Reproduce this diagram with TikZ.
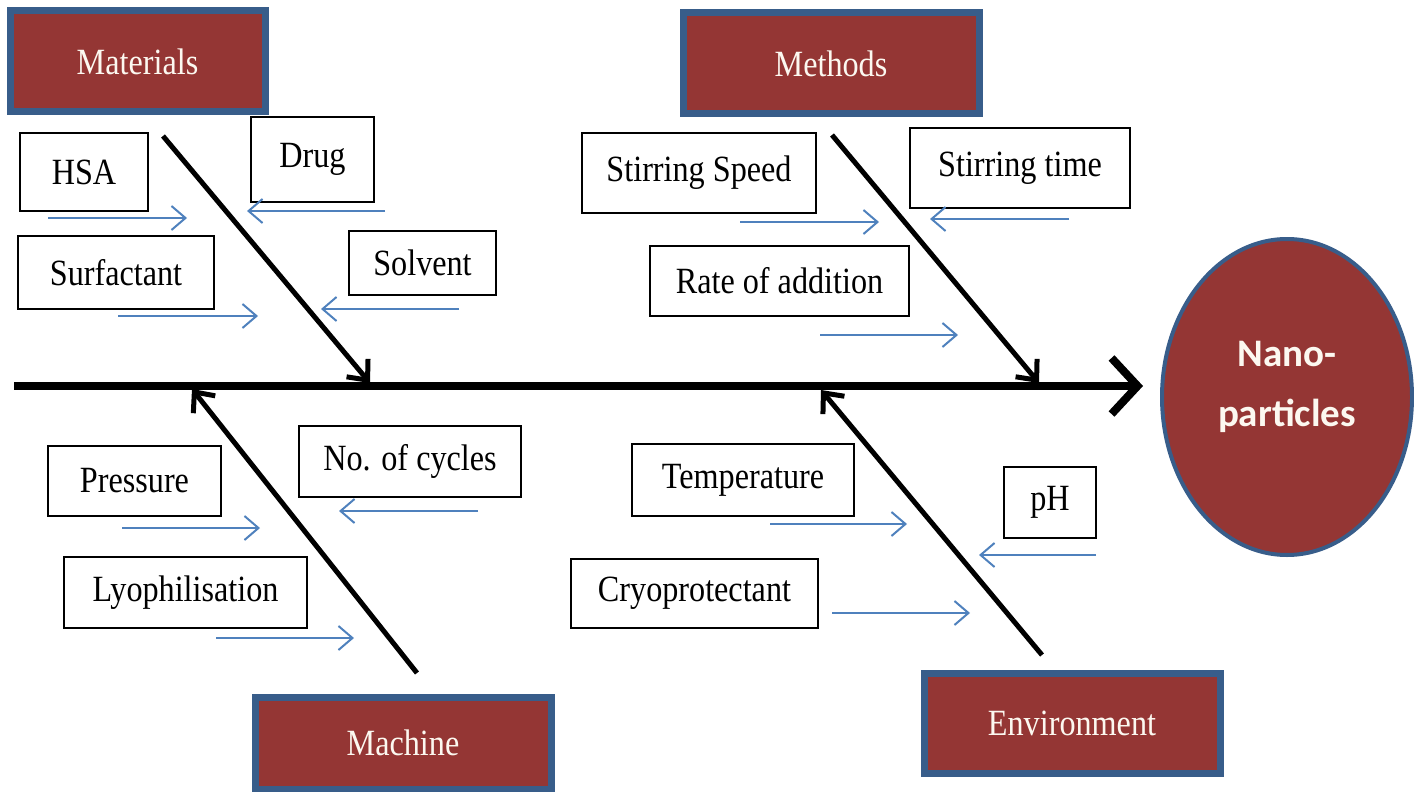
\documentclass[tikz,border=0pt]{standalone}
\usepackage{fontspec}
\setmainfont{Liberation Serif}[FakeStretch=0.87]
\newfontfamily\nanofont{Carlito}
\usepackage{tikz}
\usetikzlibrary{arrows.meta, shapes.geometric}
\definecolor{dark}{RGB}{148, 54, 52}
\definecolor{frame}{RGB}{56, 93, 138}
\definecolor{feedblue}{RGB}{79, 129, 189}
\definecolor{cream}{RGB}{252, 248, 240}

\begin{document}
\begin{tikzpicture}[x=0.5pt, y=-0.5pt,
  font=\fontsize{18.5}{22}\selectfont,
  boxsize/.style 2 args={minimum width={#1*0.5pt}, minimum height={#2*0.5pt}},
  cause/.style={draw=black, line width=1pt, fill=white, inner sep=0pt},
  group/.style={draw=frame, line width=3.5pt, fill=dark, text=cream, inner sep=0pt},
  feed/.style={draw=feedblue, line width=1pt, -{Straight Barb[length=7pt, width=12pt]}},
  bone/.style={line width=2.5pt, -{Straight Barb[length=8pt, width=14pt]}}]

  \useasboundingbox (0, 0) rectangle (1414, 792);

  \node[group, boxsize={255}{101}] (materials) at (137.5, 61.5) {Materials};
  \node[group, boxsize={296}{101}] (methods) at (831, 63.5) {Methods};
  \node[group, boxsize={296}{92}] (machine) at (403, 743) {Machine};
  \node[group, boxsize={296}{100}] (environment) at (1072, 723) {Environment};

  \node[cause, boxsize={128}{78}] (hsa) at (84, 172) {HSA};
  \node[cause, boxsize={123}{85}] (drug) at (312.5, 159.5) {Drug};
  \node[cause, boxsize={196}{73}] (surfactant) at (116, 272.5) {Surfactant};
  \node[cause, boxsize={147}{64}] (solvent) at (422.5, 263) {Solvent};
  \node[cause, boxsize={234}{80}] (speed) at (699, 173) {Stirring Speed};
  \node[cause, boxsize={220}{80}] (time) at (1020, 168) {Stirring time};
  \node[cause, boxsize={259}{70}] (rate) at (779.5, 281) {Rate of addition};
  \node[cause, boxsize={173}{70}] (pressure) at (134.5, 481) {Pressure};
  \node[cause, boxsize={222}{71}] (cycles) at (410, 461.5) {No. of cycles};
  \node[cause, boxsize={243}{71}] (lyo) at (185.5, 592.5) {Lyophilisation};
  \node[cause, boxsize={222}{72}] (temp) at (743, 480) {Temperature};
  \node[cause, boxsize={92}{71}] (ph) at (1050, 502.5) {pH};
  \node[cause, boxsize={247}{69}] (cryo) at (694.5, 593.5) {Cryoprotectant};

  \node[ellipse, draw=frame, line width=2pt, fill=dark, boxsize={250}{316},
    label={[text=cream, align=center, yshift=5pt,
      font=\nanofont\bfseries\fontsize{19.5}{30}\selectfont]center:Nano-\\particles}]
    (np) at (1287, 397) {};

  \coordinate (tail) at (14, 386);
  \coordinate (head) at (1143, 386);
  \draw[line width=4pt, -{Straight Barb[length=13pt, width=28pt]}] (tail) -- (head);

  \foreach \n/\xa/\ya/\xb/\yb in {mat/163/136/370/383, met/832/135/1039/383,
      mac/417/673/192/389, env/1042/655/821/390} {
    \coordinate (\n-a) at (\xa, \ya);
    \coordinate (\n-b) at (\xb, \yb);
    \draw[bone] (\n-a) -- (\n-b);
  }

  \foreach \n/\xa/\xb/\yy in {hsa/48/187/218, drug/385/247/211, surf/118/258/316,
      solv/459/321/309, speed/740/879/222, time/1069/930/219, rate/820/958/335,
      pres/122/260/528, cyc/478/339/511, lyo/216/354/638, temp/770/907/524,
      ph/1096/979/555, cryo/832/970/613} {
    \coordinate (\n-s) at (\xa, \yy);
    \coordinate (\n-e) at (\xb, \yy);
    \draw[feed] (\n-s) -- (\n-e);
  }

\end{tikzpicture}
\end{document}
